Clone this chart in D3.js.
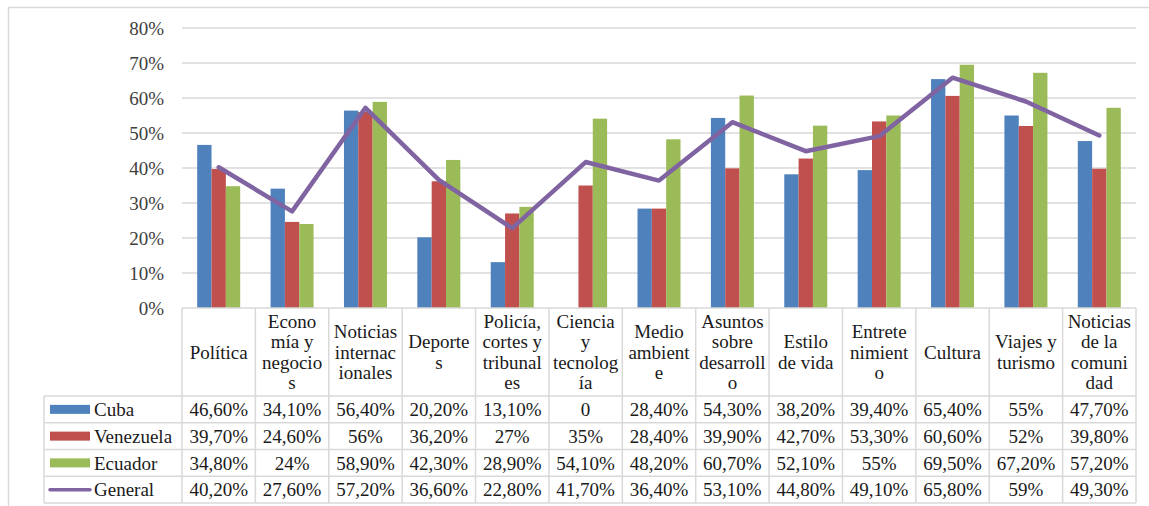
<!DOCTYPE html>
<html><head><meta charset="utf-8">
<script src="https://cdn.jsdelivr.net/npm/d3@7"></script>
<style>html,body{margin:0;padding:0;background:#fff;} svg{display:block;} svg text{font-family:"Liberation Serif";}</style>
</head><body>
<svg id="c" width="1149" height="506" font-family="Liberation Serif"></svg>
<script>
const categories = ["Política","Economía y negocios","Noticias internacionales","Deportes","Policía, cortes y tribunales","Ciencia y tecnología","Medio ambiente","Asuntos sobre desarrollo","Estilo de vida","Entretenimiento","Cultura","Viajes y turismo","Noticias de la comunidad"];
const categoryLines = [["Política"],["Econo","mía y","negocio","s"],["Noticias","internac","ionales"],["Deporte","s"],["Policía,","cortes y","tribunal","es"],["Ciencia","y","tecnolog","ía"],["Medio","ambient","e"],["Asuntos","sobre","desarroll","o"],["Estilo","de vida"],["Entrete","nimient","o"],["Cultura"],["Viajes y","turismo"],["Noticias","de la","comuni","dad"]];
const seriesNames = ["Cuba","Venezuela","Ecuador","General"];
const cuba      = [46.6,34.1,56.4,20.2,13.1,0,28.4,54.3,38.2,39.4,65.4,55,47.7];
const venezuela = [39.7,24.6,56,36.2,27,35,28.4,39.9,42.7,53.3,60.6,52,39.8];
const ecuador   = [34.8,24,58.9,42.3,28.9,54.1,48.2,60.7,52.1,55,69.5,67.2,57.2];
const general   = [40.2,27.6,57.2,36.6,22.8,41.7,36.4,53.1,44.8,49.1,65.8,59,49.3];
const yTicks = [0,10,20,30,40,50,60,70,80];
const colors = {Cuba:"#4F81BD",Venezuela:"#C0504D",Ecuador:"#9BBB59",General:"#8064A2"};

const barSeries = [["Cuba",cuba],["Venezuela",venezuela],["Ecuador",ecuador]];
const allSeries = [["Cuba",cuba],["Venezuela",venezuela],["Ecuador",ecuador],["General",general]];

const svg = d3.select("#c");
const FONT = "Liberation Serif";
const L = 182, R = 1136, T = 28, B = 308;
const tableBottom = 503, headerBottom = 396, legendLeft = 44;
const grid = "#d9d9d9";
const fs = 19;

// outer frame
svg.append("rect").attr("x",8.5).attr("y",7.5).attr("width",1150).attr("height",510)
  .attr("fill","none").attr("stroke",grid).attr("stroke-width",1.5);

const x0 = d3.scaleBand().domain(categories).range([L,R]).padding(0);
const x1 = d3.scaleBand().domain(barSeries.map(d=>d[0])).range([0,x0.bandwidth()]).paddingInner(0).paddingOuter(1.06);
const y = d3.scaleLinear().domain([0,80]).range([B,T]);

// gridlines
svg.append("g").selectAll("line").data(yTicks.filter(t=>t>0)).join("line")
  .attr("x1",L).attr("x2",R).attr("y1",d=>y(d)).attr("y2",d=>y(d))
  .attr("stroke",grid).attr("stroke-width",1.5);

// y axis labels
const yAxis = d3.axisLeft(y).tickValues(yTicks).tickFormat(d=>d+"%").tickSize(0).tickPadding(18);
const ya = svg.append("g").attr("transform",`translate(${L},0)`).call(yAxis);
ya.attr("font-family",FONT).attr("font-size",fs);
ya.select(".domain").remove();
ya.selectAll("text").attr("font-family",FONT).attr("fill","#404040");

// bars
barSeries.forEach(([name,vals])=>{
  svg.append("g").selectAll("rect").data(vals).join("rect")
    .attr("x",(d,i)=>x0(categories[i])+x1(name))
    .attr("width",x1.bandwidth())
    .attr("y",d=>y(d)).attr("height",d=>y(0)-y(d))
    .attr("fill",colors[name]);
});

// line
const line = d3.line().x((d,i)=>x0(categories[i])+x0.bandwidth()/2).y(d=>y(d));
svg.append("path").datum(general).attr("d",line).attr("fill","none")
  .attr("stroke",colors.General).attr("stroke-width",4.5).attr("stroke-linejoin","round").attr("stroke-linecap","round");

// table
const rowY = d3.scaleBand().domain(seriesNames).range([headerBottom,tableBottom]).padding(0);
const tg = svg.append("g").attr("stroke",grid).attr("stroke-width",1.5);
tg.append("line").attr("x1",L).attr("x2",R).attr("y1",B).attr("y2",B);
seriesNames.forEach(s=>{
  tg.append("line").attr("x1",legendLeft).attr("x2",R).attr("y1",rowY(s)).attr("y2",rowY(s));
});
tg.append("line").attr("x1",legendLeft).attr("x2",R).attr("y1",tableBottom).attr("y2",tableBottom);
tg.append("line").attr("x1",legendLeft).attr("x2",legendLeft).attr("y1",headerBottom).attr("y2",tableBottom);
categories.forEach(c=>{
  tg.append("line").attr("x1",x0(c)).attr("x2",x0(c)).attr("y1",B).attr("y2",tableBottom);
});
tg.append("line").attr("x1",R).attr("x2",R).attr("y1",B).attr("y2",tableBottom);

// header labels
const lh = 20.5;
categories.forEach((c,i)=>{
  const lines = categoryLines[i];
  const cx = x0(c)+x0.bandwidth()/2;
  const cy = (B+headerBottom)/2;
  const t = svg.append("text").attr("text-anchor","middle").attr("font-size",fs).attr("font-family",FONT).attr("fill","#1a1a1a");
  lines.forEach((ln,j)=>{
    t.append("tspan").attr("x",cx).attr("y",cy + (j-(lines.length-1)/2)*lh).attr("dy","0.35em").text(ln);
  });
});

// values
const fmt = v => v===0 ? "0" : (Number.isInteger(v) ? v+"%" : v.toFixed(2).replace(".",",")+"%");
allSeries.forEach(([name,vals])=>{
  const ry = rowY(name)+rowY.bandwidth()/2;
  svg.append("g").selectAll("text").data(vals).join("text")
    .attr("x",(d,i)=>x0(categories[i])+x0.bandwidth()/2).attr("y",ry).attr("dy","0.35em")
    .attr("text-anchor","middle").attr("font-size",fs).attr("font-family",FONT).attr("fill","#1a1a1a").text(d=>fmt(d));
  // legend
  if(name==="General"){
    svg.append("line").attr("x1",50).attr("x2",90).attr("y1",ry).attr("y2",ry)
      .attr("stroke",colors[name]).attr("stroke-width",3.5).attr("stroke-linecap","round");
  } else {
    svg.append("rect").attr("x",50).attr("y",ry-4.5).attr("width",40).attr("height",9).attr("fill",colors[name]);
  }
  svg.append("text").attr("x",94).attr("y",ry).attr("dy","0.35em").attr("font-size",fs).attr("font-family",FONT).attr("fill","#1a1a1a").text(name);
});
</script>
</body></html>
